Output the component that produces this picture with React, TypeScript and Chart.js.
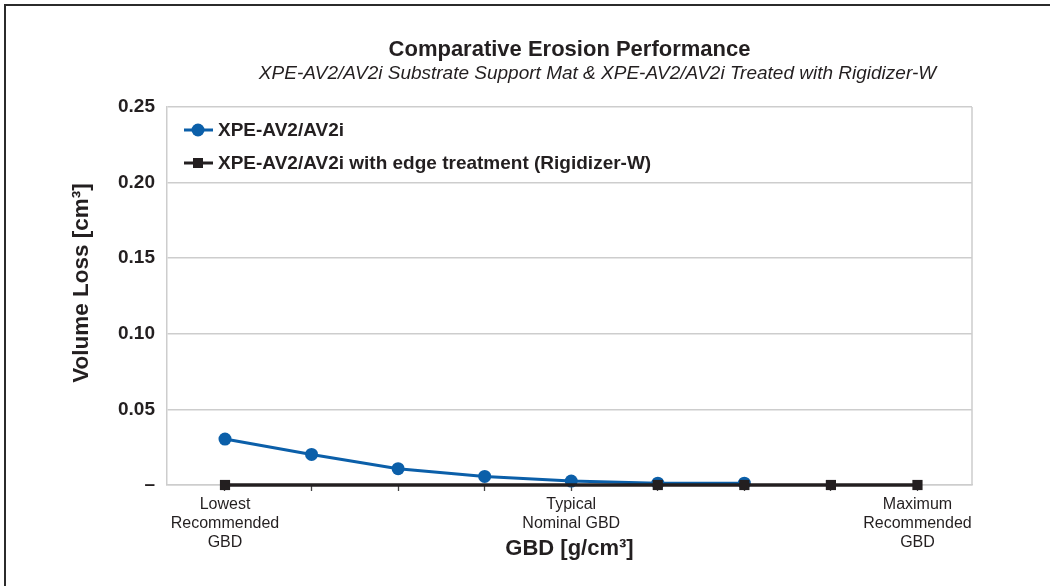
import React, { useEffect, useRef } from "react";
import { Chart, registerables } from "chart.js";

Chart.register(...registerables);

const categoryLabels: (string | string[])[] = [
  ["Lowest", "Recommended", "GBD"],
  "",
  "",
  "",
  ["Typical", "Nominal GBD"],
  "",
  "",
  "",
  ["Maximum", "Recommended", "GBD"],
];
const seriesNames = ["XPE-AV2/AV2i", "XPE-AV2/AV2i with edge treatment (Rigidizer-W)"];
const untreatedLoss = [0.0304, 0.0202, 0.0108, 0.0057, 0.0026, 0.0012, 0.0012, null, null];
const treatedLoss = [0, null, null, null, null, 0, 0, 0, 0];
const yTicks = [0, 0.05, 0.1, 0.15, 0.2, 0.25];
const yTickLabels = ["–", "0.05", "0.10", "0.15", "0.20", "0.25"];
const chartTitle = "Comparative Erosion Performance";
const chartSubtitle =
  "XPE-AV2/AV2i Substrate Support Mat & XPE-AV2/AV2i Treated with Rigidizer-W";
const xTitle = "GBD [g/cm³]";
const yTitle = "Volume Loss [cm³]";

const FONT = '"Liberation Sans", Arial, Helvetica, sans-serif';
const BLUE = "#0b5fa9";
const BLACK = "#231f20";
const GRID = "#cdcdcd";

const toPoints = (arr: (number | null)[]) => arr.map((v, i) => ({ x: i, y: v }));

const decorPlugin = {
  id: "decor",
  beforeDraw(chart: any) {
    const { ctx, width, height } = chart;
    ctx.save();
    ctx.fillStyle = "#ffffff";
    ctx.fillRect(0, 0, width, height);
    ctx.strokeStyle = "#2b2b2b";
    ctx.lineWidth = 2;
    ctx.beginPath();
    ctx.moveTo(5, height);
    ctx.lineTo(5, 5);
    ctx.lineTo(width, 5);
    ctx.stroke();
    ctx.restore();
  },
  afterDraw(chart: any) {
    const { ctx, chartArea } = chart;
    ctx.save();
    // right border of plot area
    ctx.strokeStyle = GRID;
    ctx.lineWidth = 1.5;
    ctx.beginPath();
    ctx.moveTo(chartArea.right, chartArea.top);
    ctx.lineTo(chartArea.right, chartArea.bottom);
    ctx.stroke();

    // titles
    const cx = (chartArea.left + chartArea.right) / 2;
    ctx.fillStyle = BLACK;
    ctx.textAlign = "center";
    ctx.textBaseline = "middle";
    ctx.font = `bold 22px ${FONT}`;
    ctx.fillText(chartTitle, cx, 50);
    ctx.font = `italic 19px ${FONT}`;
    ctx.fillText(chartSubtitle, cx + 28, 74);

    // y axis title
    ctx.save();
    ctx.translate(82, 283);
    ctx.rotate(-Math.PI / 2);
    ctx.font = `bold 22.5px ${FONT}`;
    ctx.fillText(yTitle, 0, 0);
    ctx.restore();

    // legend
    chart.data.datasets.forEach((ds: any, i: number) => {
      const y = chartArea.top + 23 + i * 33;
      const x0 = chartArea.left + 17;
      ctx.strokeStyle = ds.borderColor;
      ctx.lineWidth = 3;
      ctx.beginPath();
      ctx.moveTo(x0, y);
      ctx.lineTo(x0 + 29, y);
      ctx.stroke();
      ctx.fillStyle = ds.borderColor;
      if (ds.pointStyle === "rect") {
        ctx.fillRect(x0 + 14 - 5, y - 5, 10, 10);
      } else {
        ctx.beginPath();
        ctx.arc(x0 + 14, y, 6.5, 0, Math.PI * 2);
        ctx.fill();
      }
      ctx.fillStyle = BLACK;
      ctx.textAlign = "left";
      ctx.font = `bold 19px ${FONT}`;
      ctx.fillText(ds.label, x0 + 34, y + 1);
    });
    ctx.restore();
  },
};

export default function App() {
  const ref = useRef<HTMLCanvasElement | null>(null);

  useEffect(() => {
    if (!ref.current) return;
    Chart.defaults.font.family = FONT;
    const chart = new Chart(ref.current, {
      type: "line",
      data: {
        datasets: [
          {
            label: seriesNames[0],
            data: toPoints(untreatedLoss),
            borderColor: BLUE,
            backgroundColor: BLUE,
            borderWidth: 3,
            pointStyle: "circle",
            pointRadius: 6.5,
            pointBorderWidth: 0,
            tension: 0,
            clip: false,
            order: 1,
          },
          {
            label: seriesNames[1],
            data: toPoints(treatedLoss),
            borderColor: BLACK,
            backgroundColor: BLACK,
            borderWidth: 3.5,
            pointStyle: "rect",
            pointRadius: 7.2,
            pointBorderWidth: 0,
            spanGaps: true,
            tension: 0,
            clip: false,
            order: 0,
          },
        ],
      },
      options: {
        animation: false,
        responsive: false,
        layout: { padding: { top: 107, right: 78, left: 0, bottom: 0 } },
        plugins: { legend: { display: false }, tooltip: { enabled: false } },
        scales: {
          x: {
            type: "linear",
            min: -0.67,
            max: 8.63,
            afterBuildTicks: (scale: any) => {
              scale.ticks = categoryLabels.map((_, i) => ({ value: i }));
            },
            afterFit: (scale: any) => {
              scale.height = 101;
            },
            ticks: {
              autoSkip: false,
              maxRotation: 0,
              padding: 4,
              color: BLACK,
              font: { size: 16, lineHeight: 19 / 16 },
              callback: (v: any) => categoryLabels[v] ?? "",
            },
            grid: {
              drawOnChartArea: false,
              drawTicks: true,
              tickLength: 6,
              tickColor: "#444",
              tickWidth: 1.3,
            },
            border: { display: true, color: GRID, width: 1.5 },
            title: {
              display: true,
              text: xTitle,
              color: BLACK,
              font: { size: 22, weight: "bold" },
              padding: { top: 0, bottom: 24 },
            },
          },
          y: {
            type: "linear",
            min: 0,
            max: 0.25,
            afterBuildTicks: (scale: any) => {
              scale.ticks = yTicks.map((v) => ({ value: v }));
            },
            afterFit: (scale: any) => {
              scale.width = 167;
            },
            ticks: {
              padding: 12,
              color: BLACK,
              font: { size: 19, weight: "bold" },
              callback: (v: any) => {
                const i = yTicks.findIndex((t) => Math.abs(t - v) < 1e-9);
                return i >= 0 ? yTickLabels[i] : "";
              },
            },
            grid: { color: GRID, lineWidth: 1.5, drawTicks: false },
            border: { display: true, color: GRID, width: 1.5 },
            title: { display: false },
          },
        },
      },
      plugins: [decorPlugin],
    } as any);
    return () => chart.destroy();
  }, []);

  return (
    <div style={{ position: "fixed", left: 0, top: 0, width: 1050, height: 586, background: "#fff" }}>
      <canvas ref={ref} width={1050} height={586} style={{ display: "block" }} />
    </div>
  );
}
